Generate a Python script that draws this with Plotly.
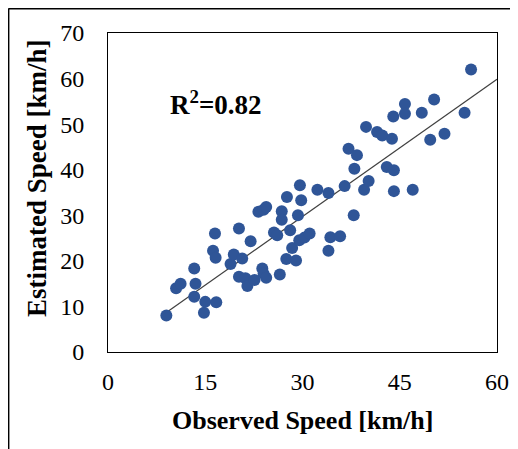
import numpy as np
import plotly.graph_objects as go

# Observed vs estimated speed (km/h)
observed = [9.0, 10.5, 11.2, 13.3, 13.5, 13.3, 14.8, 15.0, 16.7, 16.5,
            16.2, 16.6, 18.9, 19.4, 20.7, 20.2, 20.2, 21.2, 21.5, 22.0,
            22.6, 23.2, 24.0, 24.4, 23.8, 24.0, 24.4, 26.5, 25.6, 26.1,
            26.8, 26.8, 27.6, 27.5, 28.1, 28.4, 29.0, 29.3, 29.6, 29.8,
            29.5, 30.3, 31.1, 32.3, 34.0, 34.0, 34.3, 35.8, 36.5, 37.1,
            38.4, 37.9, 38.0, 39.8, 39.5, 40.2, 41.5, 42.3, 43.8, 43.0,
            44.1, 44.0, 44.1, 45.8, 45.8, 47.0, 48.4, 49.7, 50.3, 51.9,
            55.0, 56.0]
estimated = [8.0, 14.0, 15.0, 18.3, 15.0, 12.1, 8.6, 11.0, 10.9, 26.0,
             22.2, 20.7, 19.3, 21.4, 20.5, 27.1, 16.5, 16.2, 14.5, 24.3,
             15.8, 30.8, 31.2, 31.8, 18.3, 17.2, 16.3, 17.0, 26.2, 25.6,
             30.9, 29.0, 34.0, 20.4, 26.7, 22.8, 20.1, 30.0, 36.6, 33.3,
             24.5, 25.1, 26.0, 35.6, 34.9, 22.2, 25.2, 25.4, 36.4, 44.6,
             43.2, 30.0, 40.2, 49.4, 35.6, 37.5, 48.3, 47.5, 46.8, 40.6,
             39.9, 51.7, 35.3, 54.4, 52.3, 35.6, 52.5, 46.6, 55.4, 47.9,
             52.5, 62.0]
r2_label = "R<sup>2</sup>=0.82"
x_title = "Observed Speed [km/h]"
y_title = "Estimated Speed [km/h]"

# linear trendline
slope, intercept = np.polyfit(observed, estimated, 1)
trend_x = np.array([min(observed), 60])
trend_y = slope * trend_x + intercept

serif = "Liberation Serif, Times New Roman, serif"

fig = go.Figure()
fig.add_trace(go.Scatter(x=trend_x, y=trend_y, mode="lines",
                         line=dict(color="#404040", width=1.2),
                         hoverinfo="skip"))
fig.add_trace(go.Scatter(x=observed, y=estimated, mode="markers",
                         marker=dict(size=12, color="#2F5597")))

fig.add_annotation(x=16.6, y=54.6, text="<b>" + r2_label + "</b>",
                   showarrow=False, font=dict(family=serif, size=27, color="black"))

# axis titles placed as annotations for exact positioning
fig.add_annotation(x=0.499, y=-0.215, xref="paper", yref="paper",
                   text="<b>" + x_title + "</b>", showarrow=False,
                   xanchor="center", yanchor="middle",
                   font=dict(family=serif, size=26, color="black"))
fig.add_annotation(x=-0.183, y=0.545, xref="paper", yref="paper",
                   text="<b>" + y_title + "</b>", showarrow=False, textangle=-90,
                   xanchor="center", yanchor="middle",
                   font=dict(family=serif, size=27, color="black"))

# outer frame (only left and top edges are visible in the picture)
fig.add_shape(type="line", xref="paper", yref="paper",
              x0=-0.256, y0=1.077, x1=1.2, y1=1.077,
              line=dict(color="black", width=2))
fig.add_shape(type="line", xref="paper", yref="paper",
              x0=-0.256, y0=1.077, x1=-0.256, y1=-0.35,
              line=dict(color="black", width=2))

axis_common = dict(showgrid=False, zeroline=False, showline=True,
                   linecolor="black", linewidth=1, mirror=True,
                   ticks="", automargin=False,
                   tickfont=dict(family=serif, size=24, color="black"))

fig.update_xaxes(range=[0, 60], dtick=15, ticklabelstandoff=8, **axis_common)
fig.update_yaxes(range=[0, 70], dtick=10, ticklabelstandoff=18, **axis_common)

# page body adds an 8px offset, so the figure is sized to the visible area
fig.update_layout(width=510, height=441, showlegend=False,
                  margin=dict(l=100, r=21, t=25, b=97),
                  plot_bgcolor="white", paper_bgcolor="white")

fig.write_html("out.html")
